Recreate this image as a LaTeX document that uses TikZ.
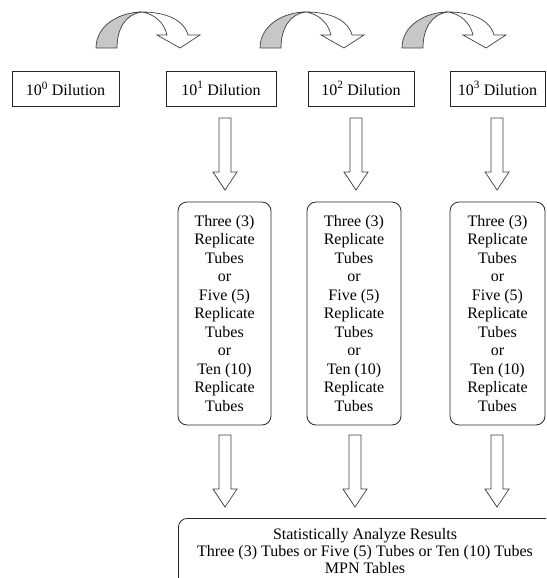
\documentclass[tikz,border=0pt]{standalone}
\usepackage{fontspec}
\setmainfont{Liberation Serif}
\begin{document}
\begin{tikzpicture}[x=1pt,y=-1pt,
  every node/.style={font=\fontsize{16}{18.5}\selectfont},
  dilbox/.style={draw=black!85,line width=0.8pt,minimum height=35pt,inner sep=2pt},
  repbox/.style={draw=black!85,line width=0.8pt,rounded corners=9pt,minimum height=223pt,align=center,inner sep=2pt},
  outl/.style={draw=black!75,line width=0.7pt},
  blockarrow/.pic={\draw[outl,fill=white] (-6,0) -- (-6,54) -- (-12,54) -- (0,72) -- (12,54) -- (6,54) -- (6,0) -- cycle;},
  curvearrow/.pic={
    \draw[outl,fill=black!22] (0,0) .. controls (0,-23) and (24,-36) .. (46,-36) .. controls (30,-34) and (21,-20) .. (21,0) -- cycle;
    \draw[outl,fill=white] (46,-36) .. controls (70,-36) and (88,-28) .. (92,-13) -- (104,-13) -- (84,0) -- (61,-13) -- (71,-13) .. controls (68,-26) and (58,-34) .. (46,-36) -- cycle;}
]
\useasboundingbox (0,0) rectangle (546,578);
\clip (0,0) rectangle (546,578);
% curved arrows
\pic at (96,48) {curvearrow};
\pic at (260,48) {curvearrow};
\pic at (402,48) {curvearrow};
% dilution boxes
\node[dilbox,minimum width=107pt] (d0) at (65.5,88.5) {10\textsuperscript{0} Dilution};
\node[dilbox,minimum width=110pt] (d1) at (221,88.5) {10\textsuperscript{1} Dilution};
\node[dilbox,minimum width=106pt] (d2) at (361,88.5) {10\textsuperscript{2} Dilution};
\node[dilbox,minimum width=95pt] (d3) at (497.5,88.5) {10\textsuperscript{3} Dilution};
% replicate boxes
\node[repbox,minimum width=93pt] (r1) at (224.5,313.5) {Three (3)\\Replicate\\Tubes\\or\\Five (5)\\Replicate\\Tubes\\or\\Ten (10)\\Replicate\\Tubes};
\node[repbox,minimum width=94pt] (r2) at (354,313.5) {Three (3)\\Replicate\\Tubes\\or\\Five (5)\\Replicate\\Tubes\\or\\Ten (10)\\Replicate\\Tubes};
\node[repbox,minimum width=95pt] (r3) at (497.5,313.5) {Three (3)\\Replicate\\Tubes\\or\\Five (5)\\Replicate\\Tubes\\or\\Ten (10)\\Replicate\\Tubes};
% results box
\node[draw=black!85,line width=0.8pt,rounded corners=9pt,anchor=north west,minimum width=390pt,minimum height=90pt] (resbox) at (178,518) {};
\node[align=center,font=\fontsize{16}{17}\selectfont] (restext) at (365,551) {Statistically Analyze Results\\Three (3) Tubes or Five (5) Tubes or Ten (10) Tubes\\MPN Tables};
% block arrows
\pic at (225,118) {blockarrow};
\pic at (356,118) {blockarrow};
\pic at (497,118) {blockarrow};
\pic at (225,435) {blockarrow};
\pic at (355,435) {blockarrow};
\pic at (497,435) {blockarrow};
\end{tikzpicture}
\end{document}
